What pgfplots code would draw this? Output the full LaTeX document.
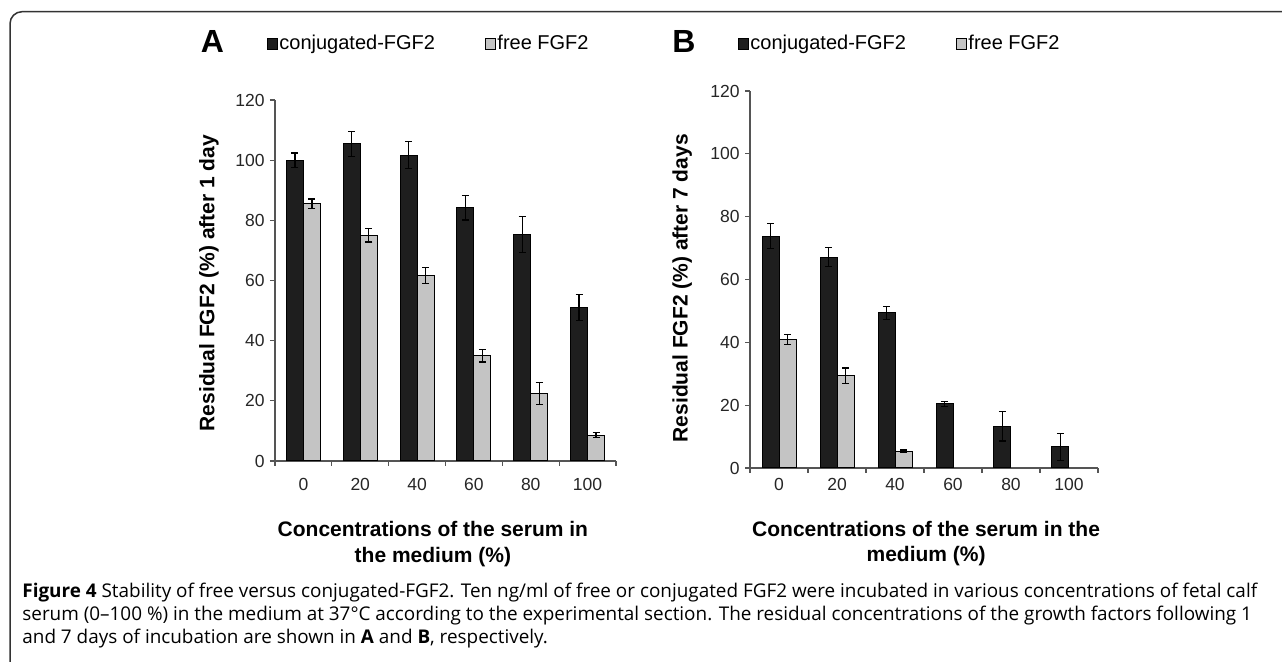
\documentclass[border=0pt]{standalone}
\usepackage{pgfplots}
\pgfplotsset{compat=1.18}
\usepackage{pgfplotstable}
\usepackage{fontspec}
\setmainfont{Liberation Sans}
\newfontfamily\capfont{Open Sans}
\definecolor{conj}{HTML}{1E1E1E}
\definecolor{freec}{HTML}{C4C4C4}
\definecolor{axc}{HTML}{555555}

\pgfplotstableread{
x c ce f fe
0 100.0 2.4 85.5 1.6
1 105.4 4.2 75.0 2.2
2 101.7 4.4 61.7 2.7
3 84.2 4.1 35.0 2.1
4 75.3 5.9 22.4 3.7
5 51.1 4.3 8.6 0.9
}\tA
\pgfplotstableread{
x c ce
0 73.8 4.0
1 67.1 3.0
2 49.4 2.1
3 20.4 0.8
4 13.3 4.7
5 6.7 4.4
}\tBc
\pgfplotstableread{
x f fe
0 40.9 1.6
1 29.4 2.4
2 5.3 0.4
}\tBf

\pgfplotsset{
 fgf/.style={
  scale only axis, ybar=0pt, bar width=8.5pt,
  ymin=0, ymax=120, ytick={0,20,...,120},
  xmin=-0.5, xmax=5.5,
  xtick={-0.5,0.5,...,5.5}, xticklabels={},
  extra x ticks={0,1,2,3,4,5}, extra x tick labels={0,20,40,60,80,100},
  extra x tick style={major tick length=0pt},
  axis x line*=bottom, axis y line*=left,
  tick align=outside, major tick length=2.5pt,
  axis line style={axc, line width=0.6pt},
  every tick/.style={axc, line width=0.6pt},
  /pgf/number format/assume math mode=true,
  tick label style={font=\fontsize{8.75pt}{10pt}\selectfont, text=black!85},
  yticklabel style={inner sep=0pt, xshift=-2.5pt},
  label style={font=\fontsize{10.5pt}{12.75pt}\selectfont\bfseries},
  legend columns=2,
  legend style={draw=none, fill=none, inner sep=0pt, font=\fontsize{10pt}{12pt}\selectfont,
    nodes={inner sep=0.75pt}, /tikz/every even column/.append style={column sep=24pt}},
  legend image code/.code={\draw[#1, line width=0.5pt] (0pt,-2.6pt) rectangle (5.2pt,2.6pt);},
 },
 cbar/.style={fill=#1, draw=black, line width=0.5pt,
  /pgfplots/error bars/y dir=both, /pgfplots/error bars/y explicit,
  /pgfplots/error bars/error bar style={black, line width=0.6pt},
  /pgfplots/error bars/error mark options={rotate=90, mark size=1.75pt, line width=0.6pt, black}},
}

\begin{document}
\begin{tikzpicture}
\useasboundingbox (0,0) rectangle (641pt,-331pt);
\draw[black!80, line width=0.75pt, rounded corners=6pt] (5pt,-340pt) -- (5pt,-5.85pt) -- (650pt,-5.85pt);

\node[font=\fontsize{16pt}{16pt}\selectfont\bfseries, inner sep=0pt] at (106.25pt,-20.75pt) {A};
\node[font=\fontsize{16pt}{16pt}\selectfont\bfseries, inner sep=0pt] at (342pt,-20.75pt) {B};

\begin{axis}[fgf, at={(137.5pt,-230.5pt)}, anchor=south west,
  width=170.5pt, height=180.5pt,
  xticklabel style={inner sep=0pt, yshift=-8.5pt},
  ylabel={Residual FGF2 (\%) after 1 day},
  ylabel style={at={(axis description cs:-0.194,0.493)}, anchor=center},
  xlabel={Concentrations of the serum in\\the medium (\%)},
  xlabel style={align=center, at={(axis description cs:0.463,-0.2798)}, anchor=base, inner sep=0pt},
  legend style={at={(axis description cs:-0.026,1.155)}, anchor=west}]
\addplot[cbar=conj] table[x=x, y=c, y error=ce] {\tA};
\addplot[cbar=freec] table[x=x, y=f, y error=fe] {\tA};
\legend{conjugated-FGF2, free FGF2}
\end{axis}

\begin{axis}[fgf, at={(375pt,-234pt)}, anchor=south west,
  width=174pt, height=188.5pt,
  xticklabel style={inner sep=0pt, yshift=-5pt},
  ylabel={Residual FGF2 (\%) after 7 days},
  ylabel style={at={(axis description cs:-0.195,0.477)}, anchor=center},
  xlabel={Concentrations of the serum in the\\medium (\%)},
  xlabel style={align=center, at={(axis description cs:0.506,-0.249)}, anchor=base, inner sep=0pt},
  legend style={at={(axis description cs:-0.037,1.125)}, anchor=west}]
\addplot[cbar=conj] table[x=x, y=c, y error=ce] {\tBc};
\addplot[cbar=freec] table[x=x, y=f, y error=fe] {\tBf};
\legend{conjugated-FGF2, free FGF2}
\end{axis}

\begin{scope}[every node/.style={anchor=base west, inner sep=0pt, font=\capfont\fontsize{9.45pt}{11.5pt}\selectfont}]
\node at (11pt,-299pt) {\textbf{Figure 4} Stability of free versus conjugated-FGF2. Ten ng/ml of free or conjugated FGF2 were incubated in various concentrations of fetal calf};
\node at (11pt,-310.5pt) {serum (0–100 \%) in the medium at 37°C according to the experimental section. The residual concentrations of the growth factors following 1};
\node at (11pt,-322pt) {and 7 days of incubation are shown in \textbf{A} and \textbf{B}, respectively.};
\end{scope}
\end{tikzpicture}
\end{document}
